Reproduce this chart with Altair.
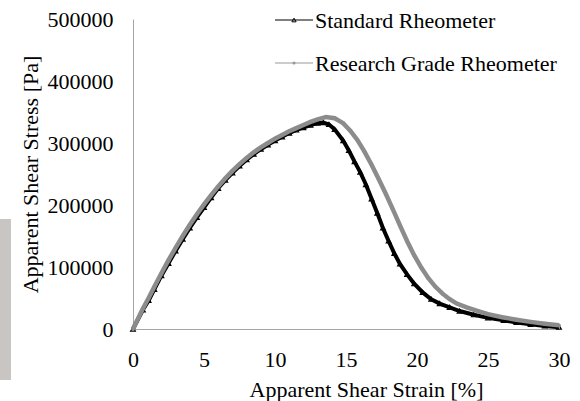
import altair as alt
import pandas as pd

FONT = "Liberation Serif"
FS = 22

series_names = ["Standard Rheometer", "Research Grade Rheometer"]
series_colors = ["#000000", "#8c8c8c"]

std_strain = [0, 0.7, 1.1, 1.5, 2.0, 2.5, 3.0, 3.5, 4.0, 4.5, 5.0, 5.5, 6.0, 6.5, 7.0,
              7.5, 8.0, 8.5, 9.0, 9.5, 10.0, 10.5, 11.0, 11.5, 12.0, 12.5, 13.0, 13.4,
              13.8, 14.2, 14.8, 15.2, 15.6, 16.0, 16.4, 16.8, 17.2, 17.6, 18.0, 18.4,
              18.8, 19.3, 19.8, 20.4, 21.0, 21.6, 22.3, 23.0, 24.0, 25.0, 26.1, 27.0,
              28.0, 29.0, 30.0]
std_stress = [0, 31000, 46000, 64000, 86000, 106000, 126000, 145000, 163000, 180000,
              196000, 212000, 227000, 240000, 252000, 263000, 273000, 282000, 290000,
              297000, 304000, 310000, 316000, 321000, 325000, 329000, 332000, 333000,
              330000, 322000, 304000, 288000, 270000, 253000, 233000, 210000, 187000,
              163000, 142000, 122000, 105000, 88000, 73000, 59000, 48000, 41000, 35000,
              29000, 23000, 18000, 14000, 10500, 7500, 5000, 3000]

res_strain = [0, 0.7, 1.1, 1.5, 2.0, 2.5, 3.0, 3.5, 4.0, 4.5, 5.0, 5.5, 6.0, 6.5, 7.0,
              7.5, 8.0, 8.5, 9.0, 9.5, 10.0, 10.5, 11.0, 11.5, 12.0, 12.5, 13.0, 13.6,
              14.2, 14.8, 15.3, 15.8, 16.3, 16.8, 17.3, 17.8, 18.3, 18.8, 19.3, 19.8,
              20.3, 20.8, 21.3, 21.8, 22.3, 22.8, 23.5, 24.3, 25.0, 26.0, 27.0, 28.0,
              29.0, 30.0]
res_stress = [0, 33000, 50000, 68000, 90000, 111000, 131000, 150000, 168000, 185000,
              201000, 216000, 230000, 243000, 255000, 266000, 276000, 285000, 293000,
              300000, 307000, 313000, 319000, 324000, 329000, 334000, 338000, 342000,
              340000, 332000, 320000, 305000, 286000, 265000, 242000, 218000, 193000,
              167000, 142000, 119000, 99000, 82000, 68000, 57000, 48000, 41000, 35000,
              29000, 24000, 19000, 15000, 11500, 8500, 6000]

x_ticks = [0, 5, 10, 15, 20, 25, 30]
y_ticks = [0, 100000, 200000, 300000, 400000, 500000]

std_df = pd.DataFrame({"strain": std_strain, "stress": std_stress, "series": series_names[0]})
res_df = pd.DataFrame({"strain": res_strain, "stress": res_stress, "series": series_names[1]})

x_enc = alt.X("strain:Q", scale=alt.Scale(domain=[0, 30], nice=False),
              axis=alt.Axis(values=x_ticks, title="Apparent Shear Strain [%]",
                            labelPadding=20, titlePadding=9, labelFlush=False, titleX=233))
y_enc = alt.Y("stress:Q", scale=alt.Scale(domain=[0, 500000], nice=False),
              axis=alt.Axis(values=y_ticks, format="d", title="Apparent Shear Stress [Pa]",
                            labelPadding=20, titlePadding=5, labelFlush=False))

std_line = alt.Chart(std_df).mark_line(color=series_colors[0], strokeWidth=4).encode(x=x_enc, y=y_enc)
std_pts = alt.Chart(std_df).mark_point(shape="triangle-up", color=series_colors[0], filled=False,
                                       size=22, strokeWidth=1.2, opacity=1).encode(x="strain:Q", y="stress:Q")
res_line = alt.Chart(res_df).mark_line(color=series_colors[1], strokeWidth=4.5).encode(x="strain:Q", y="stress:Q")
res_pts = alt.Chart(res_df).mark_point(shape="circle", color=series_colors[1], filled=True,
                                       size=14, opacity=1).encode(x="strain:Q", y="stress:Q")

# manual legend (line + marker + label), positioned in pixels within the plot area
leg_rows = []
for i, (name, col) in enumerate(zip(series_names, series_colors)):
    yy = 1 + i * 43
    lcol = col if i == 0 else "#9a9a9a"
    rule = alt.Chart(pd.DataFrame({"n": [name]})).mark_rule(color=lcol, strokeWidth=1.2).encode(
        x=alt.value(142), x2=alt.value(180), y=alt.value(yy))
    mk = alt.Chart(pd.DataFrame({"n": [name]})).mark_point(
        shape="triangle-up" if i == 0 else "circle", color=lcol,
        filled=(i == 1), size=18 if i == 0 else 10, strokeWidth=1, opacity=1).encode(
        x=alt.value(161), y=alt.value(yy))
    txt = alt.Chart(pd.DataFrame({"n": [name]})).mark_text(
        align="left", baseline="middle", font=FONT, fontSize=FS, color="#000000").encode(
        x=alt.value(182), y=alt.value(yy + 1), text="n:N")
    leg_rows += [rule, mk, txt]

# decorative grey strip at far left of the image
strip = alt.Chart(pd.DataFrame({"n": [0]})).mark_rect(color="#c9c5c3").encode(
    x=alt.value(-133), x2=alt.value(-122), y=alt.value(200), y2=alt.value(361))

chart = alt.layer(std_line, std_pts, res_line, res_pts, *leg_rows, strip).properties(
    width=426, height=310,
    autosize=alt.AutoSizeParams(type="none"),
    padding={"left": 133, "top": 19, "right": 21, "bottom": 72},
).configure(font=FONT).configure_view(stroke=None).configure_axis(
    grid=False, ticks=False, domainColor="#a6a6a6", domainWidth=1,
    labelFont=FONT, labelFontSize=FS, labelColor="#000000",
    titleFont=FONT, titleFontSize=FS, titleFontWeight="normal", titleColor="#000000",
)

chart.save("out.html", embed_options={"renderer": "svg", "actions": False})
